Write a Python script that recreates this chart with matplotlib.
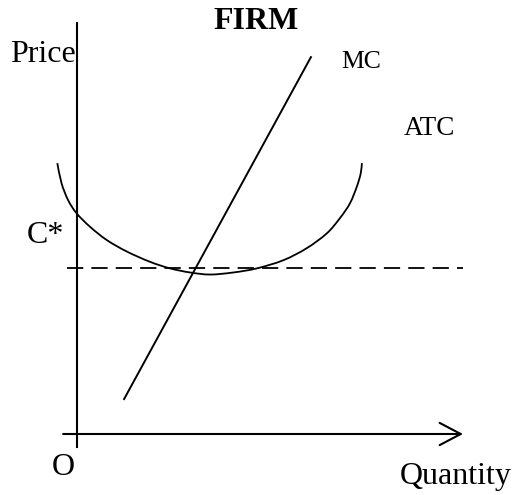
import matplotlib
matplotlib.use("Agg")
import matplotlib.pyplot as plt
from matplotlib.path import Path
from matplotlib.patches import PathPatch

plt.rcParams['font.family'] = ['Liberation Serif', 'DejaVu Serif']

# marginal cost: straight line (quantity, price)
mc_q = [12.2, 60.6]
mc_p = [8.5, 91.7]

# average total cost U curve
atc_q = [-5.1, -4.0, -2.3, -0.1, 3.4, 7.7, 12.9, 18.9, 24.1, 29.3, 34.5,
         40.5, 46.6, 53.5, 59.5, 64.7, 68.1, 70.7, 72.5, 73.5, 73.8]
atc_p = [65.9, 61.0, 56.9, 53.7, 50.4, 47.2, 44.4, 41.9, 40.3, 39.3, 38.8,
         39.3, 40.3, 42.3, 45.2, 48.8, 52.5, 56.1, 60.2, 63.4, 65.9]

c_star = 40.4


def smooth_path(xs, ys):
    # catmull-rom through the read points, drawn as cubic bezier pieces
    pts = list(zip(xs, ys))
    verts = [pts[0]]
    codes = [Path.MOVETO]
    for i in range(len(pts) - 1):
        p0 = pts[i - 1] if i > 0 else pts[i]
        p1 = pts[i]
        p2 = pts[i + 1]
        p3 = pts[i + 2] if i + 2 < len(pts) else pts[i + 1]
        c1 = (p1[0] + (p2[0] - p0[0]) / 6, p1[1] + (p2[1] - p0[1]) / 6)
        c2 = (p2[0] - (p3[0] - p1[0]) / 6, p2[1] - (p3[1] - p1[1]) / 6)
        verts += [c1, c2, p2]
        codes += [Path.CURVE4] * 3
    return Path(verts, codes)


fig = plt.figure(figsize=(5.15, 4.95), dpi=100)
ax = fig.add_axes([77 / 515, 61 / 495, 386 / 515, 411 / 495])
ax.set_xlim(0, 100)
ax.set_ylim(0, 100)
ax.axis("off")

# axes
ax.plot([0, 0], [-3.2, 100], color="black", lw=1.5, clip_on=False)
ax.annotate("", xy=(100, 0), xytext=(-3.6, 0),
            arrowprops=dict(arrowstyle="->,head_length=0.76,head_width=0.4",
                            mutation_scale=20, lw=1.5, color="black",
                            shrinkA=0, shrinkB=0),
            annotation_clip=False)

ax.plot(mc_q, mc_p, color="black", lw=1.4, clip_on=False)
ax.add_patch(PathPatch(smooth_path(atc_q, atc_p), fill=False,
                       edgecolor="black", lw=1.3, clip_on=False))
ax.plot([-2.6, 100], [c_star, c_star], color="black", lw=1.3,
        dashes=(9, 4.5), clip_on=False)

big = 23
ax.text(46.4, 98.5, "FIRM", fontsize=23, fontweight="bold",
        ha="center", va="baseline")
ax.text(-17.4, 90.5, "Price", fontsize=big, ha="left", va="baseline")
ax.text(68.4, 89.1, "MC", fontsize=18.5, ha="left", va="baseline")
ax.text(84.7, 72.7, "ATC", fontsize=19.5, ha="left", va="baseline")
ax.text(-13.0, 46.5, "C*", fontsize=big, ha="left", va="baseline")
ax.text(-6.5, -10.0, "O", fontsize=big, ha="left", va="baseline")
ax.text(83.7, -12.2, "Quantity", fontsize=big, ha="left", va="baseline")

fig.savefig("out.png", dpi=100)
